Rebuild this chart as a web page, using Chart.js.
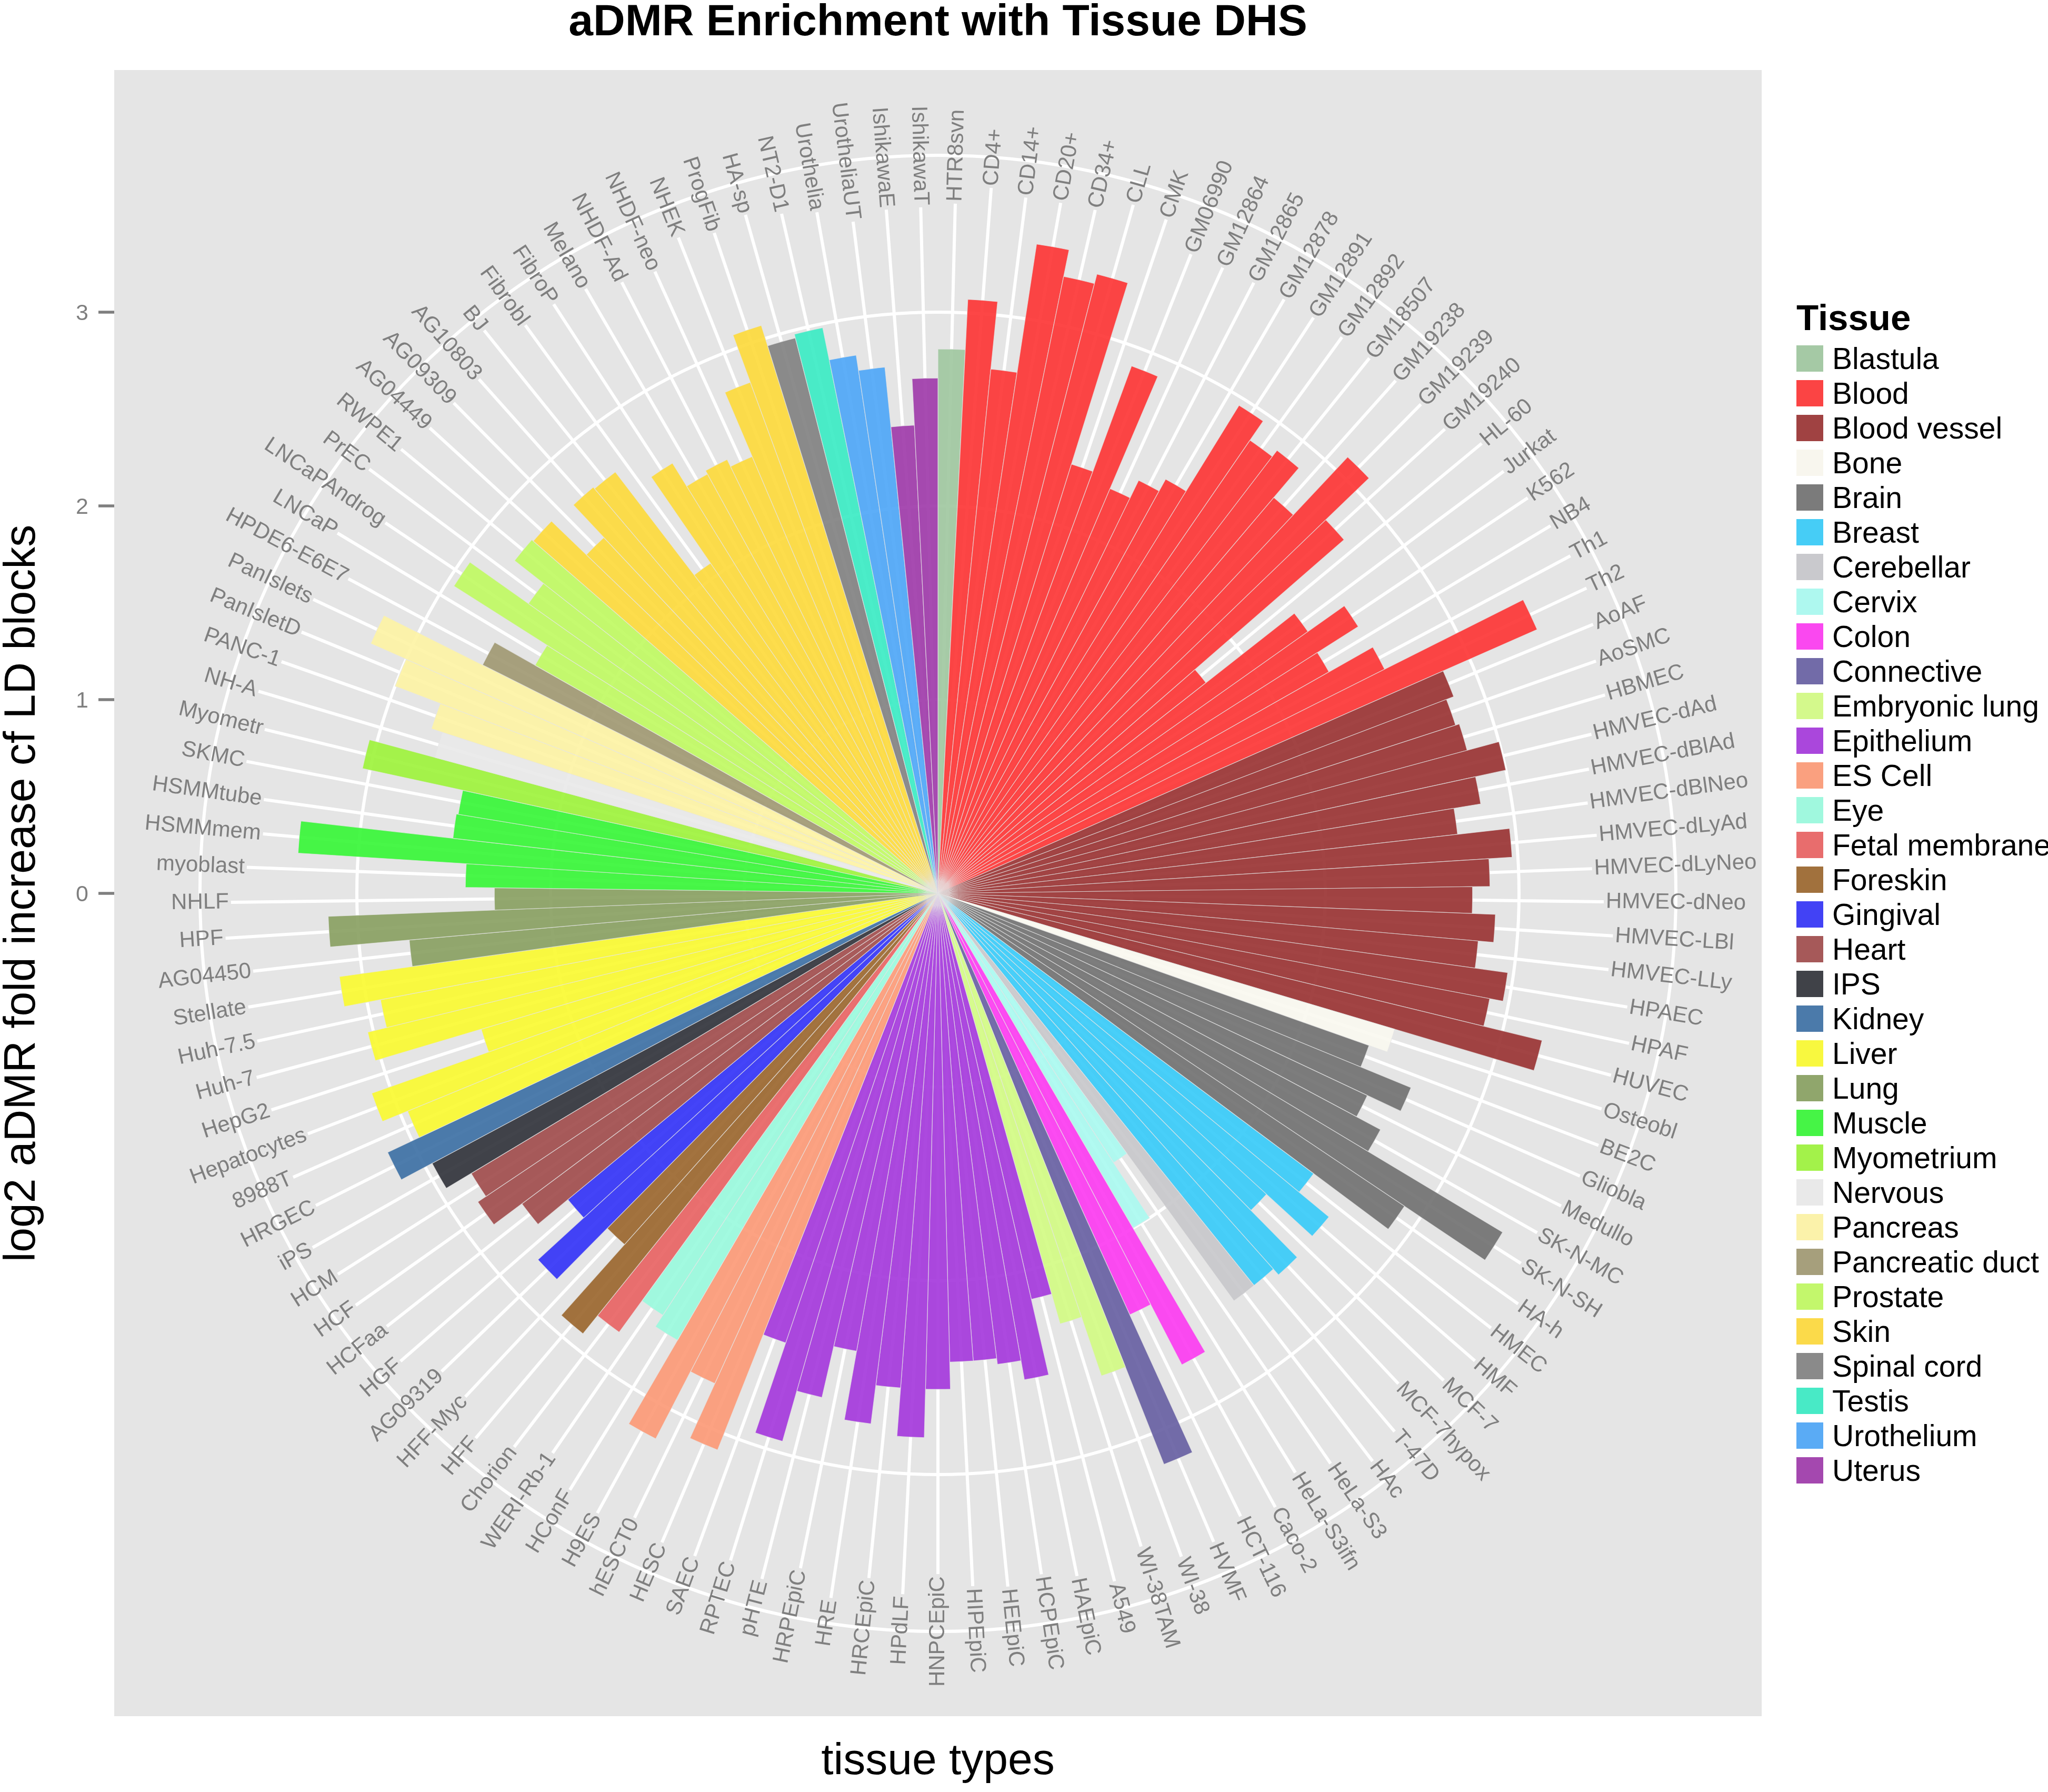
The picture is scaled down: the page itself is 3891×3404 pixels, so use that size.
<!DOCTYPE html>
<html>
<head>
<meta charset="utf-8">
<title>aDMR Enrichment with Tissue DHS</title>
<script src="https://cdn.jsdelivr.net/npm/chart.js@4.4.0/dist/chart.umd.min.js"></script>
<style>
  html, body { margin: 0; padding: 0; background: #ffffff; overflow: hidden; }
  canvas { display: block; }
</style>
</head>
<body>
<canvas id="admr" width="3891" height="3404"></canvas>
<script>
////////////////////////////////////////////////////////////////////////////////
// data
////////////////////////////////////////////////////////////////////////////////
// cell lines, clockwise from 12 o'clock
const CELL_LINES = [
    "HTR8svn",
    "CD4+", "CD14+", "CD20+", "CD34+", "CLL", "CMK", "GM06990", "GM12864", "GM12865",
    "GM12878", "GM12891", "GM12892", "GM18507", "GM19238", "GM19239", "GM19240",
    "HL-60", "Jurkat", "K562", "NB4", "Th1", "Th2",
    "AoAF", "AoSMC", "HBMEC", "HMVEC-dAd", "HMVEC-dBlAd", "HMVEC-dBlNeo", "HMVEC-dLyAd",
    "HMVEC-dLyNeo", "HMVEC-dNeo", "HMVEC-LBl", "HMVEC-LLy", "HPAEC", "HPAF", "HUVEC",
    "Osteobl",
    "BE2C", "Gliobla", "Medullo", "SK-N-MC", "SK-N-SH", "HA-h",
    "HMEC", "HMF", "MCF-7", "MCF-7hypox", "T-47D",
    "HAc",
    "HeLa-S3", "HeLa-S3ifn",
    "Caco-2", "HCT-116",
    "HVMF",
    "WI-38", "WI-38TAM",
    "A549", "HAEpiC", "HCPEpiC", "HEEpiC", "HIPEpiC", "HNPCEpiC", "HPdLF", "HRCEpiC",
    "HRE", "HRPEpiC", "pHTE", "RPTEC", "SAEC",
    "HESC", "hESCT0", "H9ES",
    "HConF", "WERI-Rb-1",
    "Chorion",
    "HFF", "HFF-Myc",
    "AG09319", "HGF",
    "HCFaa", "HCF", "HCM",
    "iPS",
    "HRGEC",
    "8988T", "Hepatocytes", "HepG2", "Huh-7", "Huh-7.5", "Stellate",
    "AG04450", "HPF", "NHLF",
    "myoblast", "HSMMmem", "HSMMtube", "SKMC",
    "Myometr",
    "NH-A",
    "PANC-1", "PanIsletD", "PanIslets",
    "HPDE6-E6E7",
    "LNCaP", "LNCaPAndrog", "PrEC", "RWPE1",
    "AG04449", "AG09309", "AG10803", "BJ", "Fibrobl", "FibroP", "Melano", "NHDF-Ad",
    "NHDF-neo", "NHEK", "ProgFib",
    "HA-sp",
    "NT2-D1",
    "Urothelia", "UrotheliaUT",
    "IshikawaE", "IshikawaT"
];

// log2 aDMR fold increase, same order as CELL_LINES
const LOG2_FOLD = [
    2.81,
    3.07, 2.72, 3.39, 3.25, 3.30, 2.32, 2.90, 2.27, 2.37,
    2.44, 2.96, 2.84, 2.88, 2.68, 3.09, 2.78,
    1.76, 2.34, 2.57, 2.32, 2.58, 3.38,
    2.85, 2.81, 2.83, 3.00, 2.84, 2.70, 2.97,
    2.85, 2.76, 2.88, 2.80, 2.97, 2.90, 3.21,
    2.46,
    2.36, 2.64, 2.45, 2.59, 3.40, 2.90,
    2.42, 2.62, 2.30, 2.64, 2.60,
    2.60,
    1.66, 2.00,
    2.74, 2.39,
    3.17,
    2.63, 2.31,
    2.15, 2.55, 2.45, 2.42, 2.42, 2.56, 2.81, 2.56,
    2.76, 2.40, 2.67, 2.94, 2.45,
    3.09, 2.78, 3.17,
    2.67, 2.60,
    2.80,
    2.92, 2.43,
    2.80, 2.48,
    2.68, 2.86, 2.81,
    2.96,
    3.14,
    2.96, 3.10, 2.46, 3.03, 2.93, 3.12,
    2.74, 3.15, 2.29,
    2.44, 3.31, 2.52, 2.51,
    3.04,
    2.69,
    2.75, 3.00, 3.20,
    2.63,
    2.39, 2.96, 2.59, 2.78,
    2.77, 2.52, 2.75, 2.74, 2.07, 2.61, 2.47, 2.49,
    2.45, 2.81, 3.07,
    2.96,
    2.98,
    2.81, 2.73,
    2.42, 2.66
];

// tissues (legend order) and how many cell lines each has, in the same order
const TISSUES = [
    "Blastula", "Blood", "Blood vessel", "Bone", "Brain", "Breast", "Cerebellar",
    "Cervix", "Colon", "Connective", "Embryonic lung", "Epithelium", "ES Cell", "Eye",
    "Fetal membrane", "Foreskin", "Gingival", "Heart", "IPS", "Kidney", "Liver", "Lung",
    "Muscle", "Myometrium", "Nervous", "Pancreas", "Pancreatic duct", "Prostate", "Skin",
    "Spinal cord", "Testis", "Urothelium", "Uterus"
];
const TISSUE_SIZES = [
    1, 22, 14, 1, 6, 5, 1,
    2, 2, 1, 2, 13, 3, 2,
    1, 2, 2, 3, 1, 1, 6, 3,
    4, 1, 1, 3, 1, 4, 11,
    1, 1, 2, 2
];

const R_TICKS = [0, 1, 2, 3];



////////////////////////////////////////////////////////////////////////////////
// style
////////////////////////////////////////////////////////////////////////////////
const TISSUE_COLORS = [
    "#A5C9A5", "#FB4444", "#A04242", "#F8F6EE", "#7B7B7B", "#46CDF6", "#C9C9CD",
    "#AEF8EF", "#FA48F0", "#726BA8", "#D4F98C", "#AA47DC", "#FAA07F", "#A0F8DE",
    "#E86D6D", "#A1713D", "#4242F5", "#A65959", "#404248", "#4B7AAA", "#F8F83F", "#90A66C",
    "#46F446", "#A3F24A", "#E9E9E9", "#FBF2AA", "#A69F7C", "#C3F76C", "#FBDA4A",
    "#8A8A8A", "#48EAC6", "#5AABF5", "#A448AF"
];

const PANEL = { left: 217, top: 133, right: 3347, bottom: 3260 };
const PANEL_BG = "#E5E5E5";
const CX = 1782, CY = 1697;       // centre of the polar panel
const PX_PER_UNIT = 368;          // radial pixels per log2 unit
const R_MAX = 3.81;               // outer ring (ggplot's 0.45 circle)
const GRID_W = 6;
const BAR_ALPHA = 0.9;
const AXIS_GREY = "#7F7F7F";
const FONT = '"Liberation Sans", Arial, Helvetica, sans-serif';
const THETA_FONT = "42px " + FONT;

// bar colour that shows the observed tone over the grey panel
const barFill = (hex)=>{
    const n = parseInt(hex.slice(1), 16);
    const rgb = [(n >> 16) & 255, (n >> 8) & 255, n & 255].map((c)=>{
        const v = Math.round((c - (1 - BAR_ALPHA) * 229) / BAR_ALPHA);
        return Math.max(0, Math.min(255, v));
    });
    return `rgba(${rgb.join(",")},${BAR_ALPHA})`;
};

const barTissue = [];
TISSUE_SIZES.forEach((cnt, t)=>{
    for(let k = 0; k < cnt; k++) barTissue.push(t);
});
const barColors = barTissue.map((t)=>barFill(TISSUE_COLORS[t]));



////////////////////////////////////////////////////////////////////////////////
// plugins
////////////////////////////////////////////////////////////////////////////////
const midAngle = (arc)=>(arc.startAngle + arc.endAngle) / 2;

const panelPlugin = {
    id: "panel",
    beforeDraw: (chart)=>{
        const ctx = chart.ctx;
        ctx.save();
        ctx.fillStyle = "#FFFFFF";
        ctx.fillRect(0, 0, chart.width, chart.height);
        ctx.fillStyle = PANEL_BG;
        ctx.fillRect(PANEL.left, PANEL.top, PANEL.right - PANEL.left, PANEL.bottom - PANEL.top);
        ctx.restore();
    },
};

// white spokes through the middle of every bar, stopping at the label
const spokePlugin = {
    id: "spokes",
    beforeDatasetsDraw: (chart)=>{
        const ctx = chart.ctx;
        const r = chart.scales.r;
        const outer = r.getDistanceFromCenterForValue(R_MAX);
        const arcs = chart.getDatasetMeta(0).data;
        ctx.save();
        ctx.font = THETA_FONT;
        ctx.strokeStyle = "#FFFFFF";
        ctx.lineWidth = GRID_W;
        arcs.forEach((arc, i)=>{
            const a = midAngle(arc);
            const len = outer - ctx.measureText(chart.data.labels[i]).width / 2 - 4;
            ctx.beginPath();
            ctx.moveTo(r.xCenter + Math.cos(a) * 40, r.yCenter + Math.sin(a) * 40);
            ctx.lineTo(r.xCenter + Math.cos(a) * len, r.yCenter + Math.sin(a) * len);
            ctx.stroke();
        });
        ctx.restore();
    },
};

const labelPlugin = {
    id: "thetaLabels",
    afterDatasetsDraw: (chart)=>{
        const ctx = chart.ctx;
        const r = chart.scales.r;
        const outer = r.getDistanceFromCenterForValue(R_MAX);
        const arcs = chart.getDatasetMeta(0).data;
        ctx.save();
        ctx.font = THETA_FONT;
        ctx.fillStyle = AXIS_GREY;
        ctx.textAlign = "center";
        ctx.textBaseline = "middle";
        arcs.forEach((arc, i)=>{
            const a = midAngle(arc);
            const clockDeg = (a * 180 / Math.PI + 90 + 360) % 360;
            const rot = clockDeg < 179.9 ? a : a + Math.PI;
            ctx.save();
            ctx.translate(r.xCenter + Math.cos(a) * outer, r.yCenter + Math.sin(a) * outer);
            ctx.rotate(rot);
            ctx.fillText(chart.data.labels[i], 0, 0);
            ctx.restore();
        });
        ctx.restore();
    },
};

const decorPlugin = {
    id: "decor",
    afterDraw: (chart)=>{
        const ctx = chart.ctx;
        const r = chart.scales.r;
        ctx.save();

        // radial axis on the left edge of the panel
        ctx.font = "43px " + FONT;
        ctx.fillStyle = AXIS_GREY;
        ctx.strokeStyle = AXIS_GREY;
        ctx.lineWidth = 5.5;
        ctx.textAlign = "right";
        ctx.textBaseline = "alphabetic";
        R_TICKS.forEach((v)=>{
            const y = r.yCenter - r.getDistanceFromCenterForValue(v);
            ctx.beginPath();
            ctx.moveTo(PANEL.left - 30, y);
            ctx.lineTo(PANEL.left, y);
            ctx.stroke();
            ctx.fillText(String(v), PANEL.left - 49, y + 15);
        });

        // titles
        ctx.fillStyle = "#000000";
        ctx.textAlign = "center";
        ctx.font = "bold 84px " + FONT;
        ctx.fillText("aDMR Enrichment with Tissue DHS", CX, 67);
        ctx.font = "84px " + FONT;
        ctx.fillText("tissue types", CX, 3370);
        ctx.save();
        ctx.translate(66, CY);
        ctx.rotate(-Math.PI / 2);
        ctx.fillText("log2 aDMR fold increase cf LD blocks", 0, 0);
        ctx.restore();

        // legend
        const lx = 3413, firstY = 681, step = 66, key = 51;
        ctx.textAlign = "left";
        ctx.font = "bold 69px " + FONT;
        ctx.fillText("Tissue", lx, 627);
        ctx.font = "57px " + FONT;
        TISSUES.forEach((name, t)=>{
            const cy = firstY + t * step;
            ctx.fillStyle = TISSUE_COLORS[t];
            ctx.fillRect(lx, cy - 25, key, 50);
            ctx.fillStyle = "#000000";
            ctx.fillText(name, 3481, cy + 20);
        });
        ctx.restore();
    },
};



////////////////////////////////////////////////////////////////////////////////
// chart
////////////////////////////////////////////////////////////////////////////////
const createChart = ()=>{
    const canvas = document.querySelector("#admr");
    return new Chart(canvas, {
        type: "polarArea",
        data: {
            labels: CELL_LINES,
            datasets: [{
                label: "log2 aDMR fold increase",
                data: LOG2_FOLD,
                backgroundColor: barColors,
                borderColor: "rgba(229,229,229,0.75)",
                borderWidth: 1.2,
            }],
        },
        options: {
            responsive: false,
            devicePixelRatio: 1,
            animation: false,
            layout: { padding: 0 },
            plugins: {
                legend: { display: false },
                tooltip: { enabled: false },
                title: { display: false },
            },
            scales: {
                r: {
                    min: 0,
                    max: R_MAX,
                    startAngle: 0,
                    ticks: { display: false, stepSize: 1 },
                    grid: { color: "#FFFFFF", lineWidth: GRID_W, circular: true },
                    angleLines: { display: false },
                    pointLabels: { display: false },
                    afterBuildTicks: (scale)=>{
                        scale.ticks = R_TICKS.concat([R_MAX]).map((v)=>({ value: v }));
                    },
                    afterFit: (scale)=>{
                        scale.xCenter = CX;
                        scale.yCenter = CY;
                        scale.drawingArea = R_MAX * PX_PER_UNIT;
                    },
                },
            },
        },
        plugins: [panelPlugin, spokePlugin, labelPlugin, decorPlugin],
    });
};

createChart();
</script>
</body>
</html>
